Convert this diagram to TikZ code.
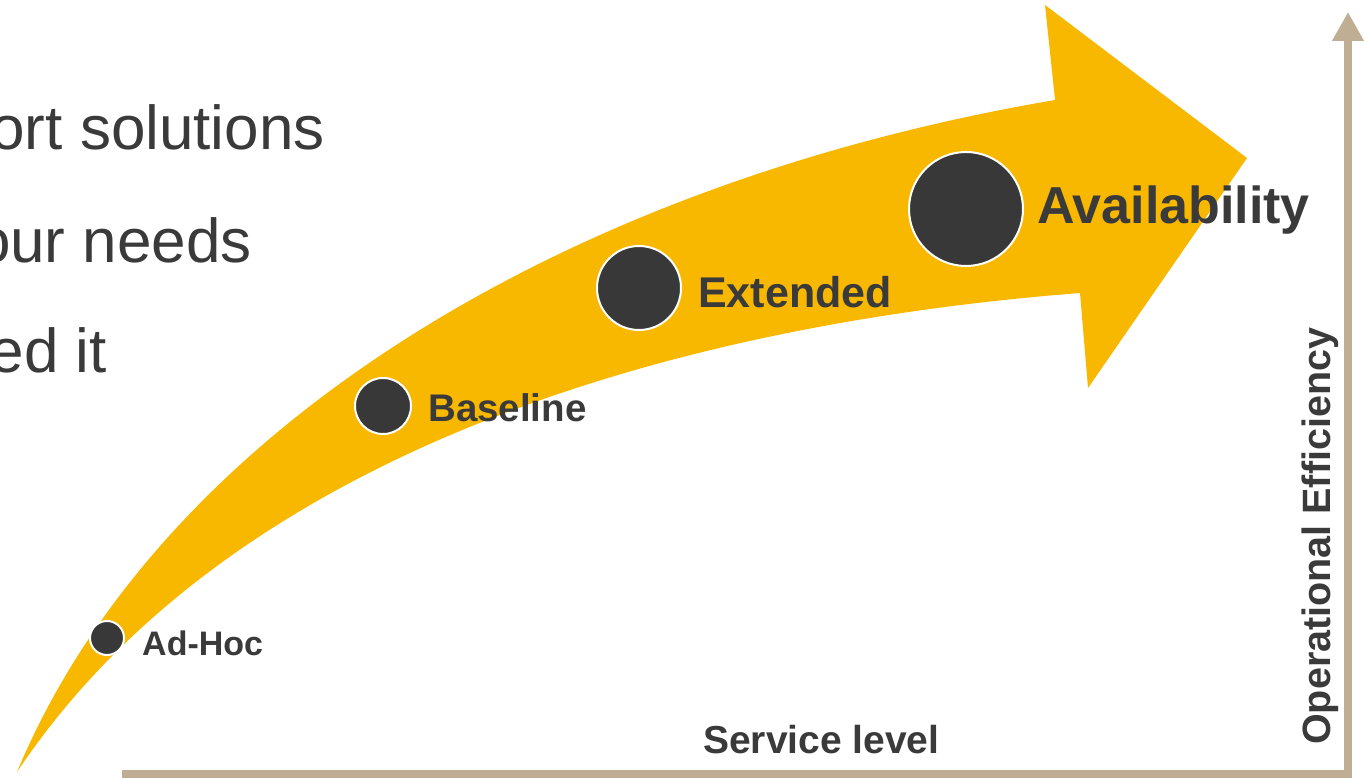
\documentclass[tikz,border=0pt]{standalone}
\usepackage{fontspec}
\setmainfont{Liberation Sans}
\usepackage{xcolor}
\usetikzlibrary{arrows.meta,positioning}
\definecolor{arrowyellow}{HTML}{F9B800}
\definecolor{dotgray}{HTML}{383838}
\definecolor{textgray}{HTML}{3A3A3A}
\definecolor{axistan}{HTML}{BFAE93}

\begin{document}
\begin{tikzpicture}[x=1pt,y=-1pt,
			stage/.style={circle,fill=dotgray,draw=white,line width=2pt,inner sep=0pt},
			stagetext/.style={anchor=base west,inner sep=0pt,text=textgray,font=\bfseries},
			bullettext/.style={anchor=base east,inner sep=0pt,text=textgray,font=\fontsize{62}{70}\selectfont},
			axis/.style={draw=axistan,line width=8pt}]
			\useasboundingbox (0,0) rectangle (1367,778);
			\clip (0,0) rectangle (1367,778);
			
			% text of the slide behind, cut at the left
			\node[bullettext] (t1) at (325,150) {ort solutions};
			\node[bullettext] (t2) at (252,262) {our needs};
			\node[bullettext] (t3) at (107,372) {ed it};
			
			% the big yellow arrow
			\fill[arrowyellow] (17,772) .. controls (157,436) and (555,185) .. (1055,100)
			-- (1045,5) -- (1247,158) -- (1088,388) -- (1080,293)
			.. controls (630,328) and (217,472) .. (17,772) -- cycle;
			
			% axes
			\coordinate (origin) at (1348,774);
			\coordinate (xstart) at (122,774);
			\coordinate (ytop) at (1348,12);
			\draw[axis] (xstart) -- (origin);
			\draw[axis,-{Triangle[width=30pt,length=29pt]}] (1348,778) -- (ytop);
			
			% stages
			\node[stage, minimum size=34pt]  (adhoc)  at (107,638) {};
			\node[stage, minimum size=56pt]  (base)   at (383,406) {};
			\node[stage, minimum size=84pt]  (ext)    at (639,288) {};
			\node[stage, minimum size=114pt] (avail)  at (966,209) {};
			
			\node[stagetext, font=\bfseries\fontsize{34}{40}\selectfont] (adhoclbl) at (142,655) {Ad-Hoc};
			\node[stagetext, font=\bfseries\fontsize{38.5}{44}\selectfont] (baselbl) at (428,421) {Baseline};
			\node[stagetext, font=\bfseries\fontsize{43}{50}\selectfont] (extlbl) at (698,307) {Extended};
			\node[stagetext, font=\bfseries\fontsize{52}{60}\selectfont] (availlbl) at (1037,223) {Availability};
			
			\node[stagetext, font=\bfseries\fontsize{39}{45}\selectfont] (xlbl) at (703,753) {Service level};
			\node[stagetext, font=\bfseries\fontsize{39.5}{45}\selectfont, rotate=90] (ylbl) at (1330,745) {Operational Efficiency};
			\end{tikzpicture}
\end{document}
